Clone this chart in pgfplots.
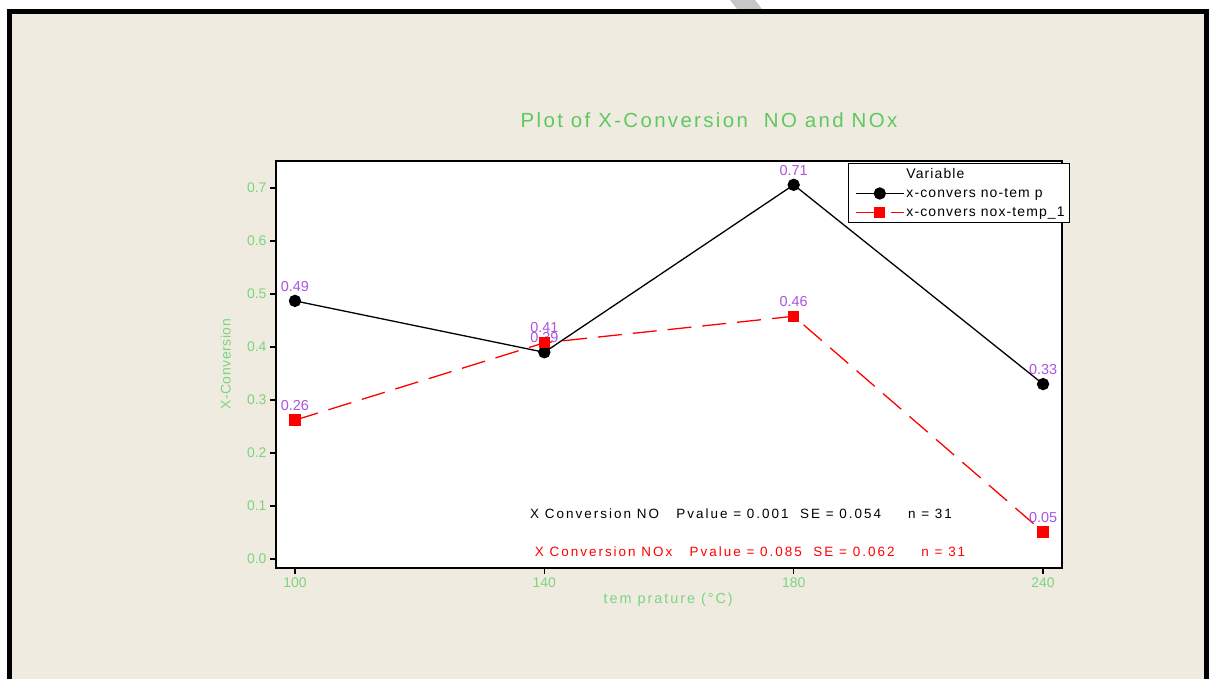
\documentclass[border=0pt]{standalone}
\usepackage{fontspec}
\setmainfont{Liberation Sans}
\newfontfamily\titlefont[LetterSpace=11.5]{Liberation Sans}
\newfontfamily\statfont[LetterSpace=15]{Liberation Sans}
\newfontfamily\legfont[LetterSpace=8]{Liberation Sans}
\newfontfamily\xlabfont[LetterSpace=13.5]{Liberation Sans}
\newfontfamily\ylabfont[LetterSpace=4]{Liberation Sans}
\usepackage{pgfplots}
\pgfplotsset{compat=1.18}
\definecolor{bg}{RGB}{239,235,225}
\definecolor{titlegreen}{RGB}{95,200,95}
\definecolor{tickgreen}{RGB}{125,212,125}
\definecolor{lblpurple}{RGB}{170,85,225}
\pgfplotstableread{
x NO NOx lNO lNOx
0 0.487 0.262 0.49 0.26
1 0.390 0.408 0.39 0.41
2 0.706 0.458 0.71 0.46
3 0.330 0.051 0.33 0.05
}\datatab
\begin{document}
\begin{tikzpicture}[x=1bp,y=1bp]
\clip (0,0) rectangle (1210,679);
\fill[white] (0,0) rectangle (1210,679);
\fill[bg] (9.5,-10) rectangle (1206.5,667.5);
\fill[black!22] (730,679) -- (755,679) -- (762,670) -- (737,670) -- cycle;
\draw[line width=5bp] (9.5,-10) -- (9.5,667.5) -- (1206.5,667.5) -- (1206.5,-10);
\node[text=titlegreen, font=\titlefont\fontsize{20.5}{24}\selectfont] at (709,559) {Plot of X-Conversion\ \ NO and NOx};
\begin{axis}[
  at={(276bp,111bp)}, anchor=south west,
  width=786bp, height=407bp, scale only axis,
  xmin=-0.076, xmax=3.076, ymin=-0.017, ymax=0.751,
  axis background/.style={fill=white},
  axis line style={line width=1.6bp},
  xtick={0,1,2,3}, xticklabels={100,140,180,240},
  ytick={0,0.1,...,0.7},
  yticklabel style={/pgf/number format/fixed, /pgf/number format/fixed zerofill, /pgf/number format/precision=1},
  /pgf/number format/assume math mode=true,
  tick align=outside, tick pos=left,
  major tick length=6bp,
  tick style={line width=1.4bp, black},
  ticklabel style={text=tickgreen, font=\fontsize{14}{16}\selectfont},
  xlabel={tem prature (°C)},
  ylabel={X-Conversion},
  xlabel style={text=tickgreen, font=\xlabfont\fontsize{14.5}{16}\selectfont, at={(axis description cs:0.499,-0.079)}, anchor=center},
  ylabel style={text=tickgreen, font=\ylabfont\fontsize{14}{16}\selectfont, at={(axis description cs:-0.064,0.5)}, anchor=center},
  legend style={at={(axis description cs:0.728,0.995)}, anchor=north west,
    font=\legfont\fontsize{14}{17}\selectfont, draw=black, line width=1.2bp,
    row sep=4bp, inner xsep=3bp, inner ysep=3bp, legend cell align=left},
  legend image code/.code={\draw[mark repeat=2, mark phase=2, #1] plot coordinates {(4bp,0bp) (28bp,0bp) (52bp,0bp)};},
  nodes near coords,
  point meta=explicit symbolic,
  every node near coord/.append style={text=lblpurple, font=\fontsize{14.5}{16}\selectfont, anchor=south, yshift=8bp, inner sep=1bp},
  clip=false,
]
\addlegendimage{empty legend}
\addlegendentry{Variable}
\addplot[black, line width=1.3bp, mark=*, mark size=5.5bp, mark options={solid, fill=black}]
  table[x=x, y=NO, meta=lNO] {\datatab};
\addlegendentry{x-convers no-tem p}
\addplot[red, line width=1.3bp, dash pattern=on 24bp off 11bp, mark=square*, mark size=5bp, mark options={solid, fill=red}]
  table[x=x, y=NOx, meta=lNOx] {\datatab};
\addlegendentry{x-convers nox-temp\_1}
\node[text=black, font=\statfont\fontsize{13.5}{15}\selectfont] at (axis cs:1.789,0.085) {X Conversion NO\ \ \ Pvalue = 0.001\ \ SE = 0.054\hspace{2em}n = 31};
\node[text=red, font=\statfont\fontsize{13.5}{15}\selectfont] at (axis cs:1.825,0.013) {X Conversion NOx\ \ \ Pvalue = 0.085\ \ SE = 0.062\hspace{2em}n = 31};
\end{axis}
\end{tikzpicture}
\end{document}
